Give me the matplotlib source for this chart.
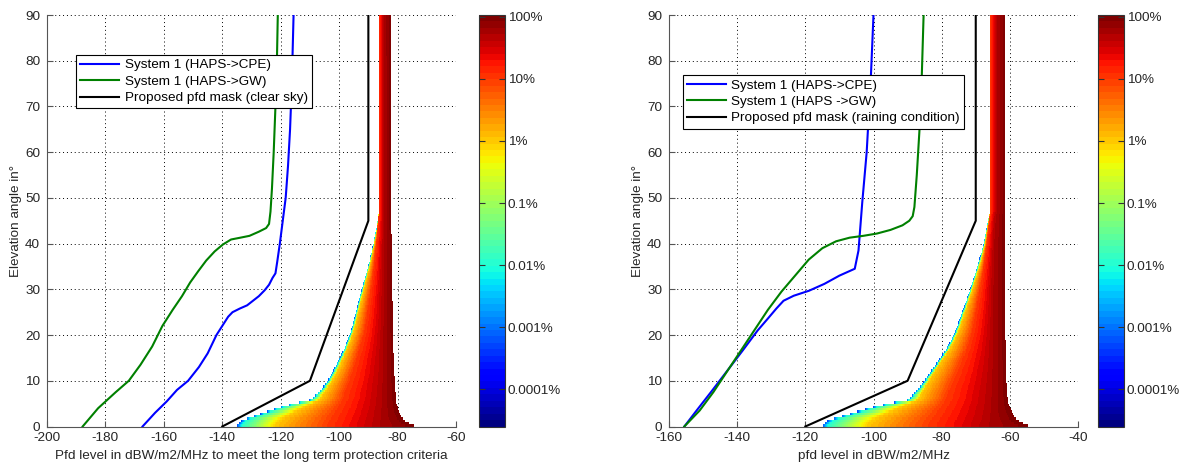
import numpy as np
import matplotlib as mpl
import matplotlib.pyplot as plt

plt.rcParams['font.family'] = ['Liberation Sans', 'DejaVu Sans']
plt.rcParams['font.size'] = 9.7
plt.rcParams['axes.unicode_minus'] = False

# colour anchors along each elevation row, log10 of the percentage
levels = [-3.3, -2.0, 0.0, 1.0, 1.7, 2.0]
pct_ticks = [-4, -3, -2, -1, 0, 1, 2]
pct_labels = ['0.0001%', '0.001%', '0.01%', '0.1%', '1%', '10%', '100%']

# ---- clear sky : pfd (dBW/m2/MHz) reached by each anchor level, per elevation
elev_cs = [0, 0.5, 1, 1.5, 2, 2.7, 3.5, 4.2, 4.8, 5.2, 5.6, 6.3, 8, 10, 13, 17, 21, 25, 30, 35, 40, 44, 46.5, 47, 90]
cs_l0 = [-135.2, -134.6, -134, -133, -130.5, -127.2, -123.5, -120.3, -117, -114.4, -110.6, -108.9, -106.3,
         -103.9, -101.4, -98.3, -95.9, -94.3, -92.3, -90.1, -88.3, -87.1, -86.6, -86.5, -86.5]
cs_l1 = [-133.6, -133.0, -132.4, -131.5, -129.1, -125.9, -122.4, -119.3, -116.1, -113.6, -110.0, -108.4, -105.8,
         -103.45, -101.0, -97.95, -95.6, -94.05, -92.1, -89.95, -88.2, -87.02, -86.55, -86.49, -86.49]
cs_l2 = [-122, -121.5, -121, -120, -119, -116.8, -114.5, -112.5, -110.5, -109, -107.5, -106.3, -104.5,
         -102.5, -100, -97.3, -95, -93.5, -91.6, -89.6, -87.9, -86.9, -86.5, -86.48, -86.48]
cs_l3 = [-104, -103.8, -103.5, -103, -102.5, -101.8, -101, -100.3, -99.8, -99.4, -99, -98.5, -97.8,
         -96.5, -95, -93, -91.3, -90.3, -89.2, -88.1, -87.3, -86.8, -86.45, -86.47, -86.47]
cs_l4 = [-87, -86.8, -86.6, -86.4, -86.2, -86.1, -86, -85.9, -85.85, -85.8, -85.75, -85.7, -85.55,
         -85.4, -85.3, -85.2, -85.1, -85, -85, -85, -84.9, -84.8, -84.7, -84.7, -84.7]
cs_l5 = [-73.5, -75.5, -76.8, -77.8, -78.6, -79.2, -79.7, -80, -80.2, -80.35, -80.5, -80.6, -80.8,
         -81, -81.2, -81.4, -81.6, -81.7, -81.8, -81.9, -82, -82.1, -82.2, -82.3, -82.4]

# ---- raining condition
elev_rn = [0, 0.5, 1, 1.5, 2, 2.7, 3.5, 4.2, 4.8, 5.2, 5.6, 6.3, 8, 10, 13, 17, 21, 25, 30, 35, 40, 44, 46.5, 47, 90]
rn_l0 = [-115.2, -114.6, -114, -113, -110.5, -107.2, -103.5, -100.3, -97, -94.4, -90.6, -89.2, -87.2,
         -85.1, -82.3, -78.6, -75.9, -74, -71.7, -69.5, -67.7, -66.7, -66, -65.7, -65.7]
rn_l1 = [-113.6, -113.0, -112.4, -111.5, -109.1, -105.9, -102.4, -99.3, -96.1, -93.6, -90.0, -88.7, -86.7,
         -84.65, -81.9, -78.25, -75.6, -73.75, -71.5, -69.35, -67.6, -66.62, -65.95, -65.69, -65.69]
rn_l2 = [-102, -101.5, -101, -100, -99, -96.8, -94.5, -92.5, -90.5, -89, -87.5, -86.6, -85.4,
         -83.7, -81.3, -77.6, -75, -73.2, -71, -68.9, -67.3, -66.5, -65.9, -65.68, -65.68]
rn_l3 = [-84, -83.8, -83.5, -83, -82.5, -81.8, -81, -80.3, -79.8, -79.4, -79, -78.6, -77.8,
         -76.6, -74.8, -72.6, -71, -70, -68.8, -67.7, -66.8, -66.2, -65.8, -65.67, -65.67]
rn_l4 = [-67, -66.8, -66.6, -66.4, -66.2, -66.1, -66, -65.9, -65.85, -65.8, -65.75, -65.7, -65.55,
         -65.4, -65.3, -65.2, -65.1, -65, -65, -64.9, -64.7, -64.5, -64.2, -63.9, -63.9]
rn_l5 = [-54, -55.5, -56.8, -57.8, -58.6, -59.2, -59.7, -60, -60.2, -60.35, -60.5, -60.6, -60.8,
         -61, -61.1, -61.2, -61.3, -61.4, -61.4, -61.5, -61.5, -61.5, -61.5, -61.5, -61.5]

# ---- system curves, clear sky
cpe_cs_x = [-167.3, -163, -159, -155.5, -151.7, -148, -145, -142, -140, -138, -136.5, -134, -131.5,
            -129.5, -127.5, -125.5, -124, -122.8, -121.8, -121.2, -120.3, -119.3, -118.3, -117.5,
            -116.8, -116.2, -115.8, -115.6]
cpe_cs_y = [0, 3, 5.5, 8, 10, 13, 16, 20, 22, 24, 25, 25.8, 26.5,
            27.5, 28.5, 29.8, 31, 32.5, 33.5, 36, 40, 45, 50, 57,
            65, 75, 85, 90]
gw_cs_x = [-187.8, -182.5, -176.5, -172, -168, -164, -160.5, -157, -153.8, -151, -148.2, -145.5, -142.6,
           -139.8, -137, -133.8, -130.7, -127.5, -125, -124, -123.5, -123, -122.4, -121.8, -121.3, -121]
gw_cs_y = [0, 4, 7.5, 10, 13.5, 17.5, 22, 25.5, 28.5, 31.5, 34, 36.3, 38.3,
           39.8, 40.9, 41.3, 41.7, 42.6, 43.4, 44.3, 47, 52, 60, 70, 80, 90]
mask_cs_x = [-140, -110, -90, -90]
mask_cs_y = [0, 10, 45, 90]

# ---- system curves, raining condition
cpe_rn_x = [-155.5, -151.9, -147.4, -142.9, -138.4, -134, -131, -128.5, -126.4, -123.4, -118.9, -114.4,
            -110, -105.5, -104.4, -103.3, -102, -100.8, -100]
cpe_rn_y = [0, 3.5, 7.8, 12.2, 16.6, 21, 23.6, 25.8, 27.5, 28.6, 29.7, 31.2,
            33, 34.5, 38.5, 49, 60, 76, 90]
gw_rn_x = [-155.5, -151, -147, -143, -139, -135, -131, -127, -123, -119, -115, -111, -107, -103,
           -99, -95, -91.5, -89.5, -88.5, -88, -87.3, -86.5, -85.9, -85.5, -85.3]
gw_rn_y = [0, 3.5, 7.5, 12, 16.5, 21, 25.5, 29.5, 33, 36.5, 39, 40.5, 41.3, 41.7,
           42.2, 43, 44, 45, 46, 48, 55, 65, 75, 85, 90]
mask_rn_x = [-120, -90, -70, -70]
mask_rn_y = [0, 10, 45, 90]

jet = plt.get_cmap('jet', 64)
vmin, vmax = -4.6, 2.03


def pfd_field(x0, x1, elev, anchors):
    xc = np.arange(x0 + 0.05, x1, 0.1)
    ec = np.arange(0.25, 90, 0.5)
    A = np.array([np.interp(ec, elev, a) for a in anchors])
    Z = np.full((len(ec), len(xc)), np.nan)
    for i in range(len(ec)):
        row = np.interp(xc, A[:, i], levels)
        inside = (xc >= A[0, i]) & (xc <= A[-1, i])
        Z[i] = np.where(inside, row, np.nan)
    return xc, ec, np.ma.masked_invalid(Z)


def panel(ax, cax, field, curves, labels, xlim, xlabel, leg_anchor):
    xc, ec, Z = field
    mesh = ax.pcolormesh(xc, ec, Z, cmap=jet, vmin=vmin, vmax=vmax, shading='nearest', zorder=1)
    cols = ['#0000ff', '#008000', 'k']
    for (cx, cy), lab, c in zip(curves, labels, cols):
        ax.plot(cx, cy, color=c, lw=1.5, label=lab, zorder=3)
    ax.set_xlim(*xlim)
    ax.set_ylim(0, 90)
    ax.set_xticks(np.arange(xlim[0], xlim[1] + 1, 20))
    ax.set_yticks(np.arange(0, 91, 10))
    ax.grid(True, linestyle=(0, (1, 3)), color='k', linewidth=0.7, zorder=0)
    ax.set_axisbelow(True)
    for s in ['top', 'right']:
        ax.spines[s].set_visible(False)
    for s in ['left', 'bottom']:
        ax.spines[s].set_color('#555555')
    ax.tick_params(direction='in', length=4, colors='#555555', labelcolor='#262626')
    ax.tick_params(axis='x', pad=4)
    ax.tick_params(axis='y', pad=5)
    ax.set_xlabel(xlabel, color='#262626', labelpad=4)
    ax.set_ylabel('Elevation angle in°', color='#262626', labelpad=2)
    leg = ax.legend(loc='upper left', bbox_to_anchor=leg_anchor, fancybox=False, framealpha=1,
                    edgecolor='k', handlelength=2.9, borderpad=0.3, labelspacing=0.3,
                    handletextpad=0.4, borderaxespad=0)
    leg.get_frame().set_linewidth(0.8)

    cb = plt.colorbar(mesh, cax=cax, ticks=pct_ticks)
    cb.ax.set_yticklabels(pct_labels)
    cb.outline.set_edgecolor('#333333')
    cb.ax.tick_params(direction='in', left=True, right=True, length=4, colors='#333333',
                      labelcolor='#262626', pad=2)


W, H = 1188, 468
bot, top = 426.5, 15
fig = plt.figure(figsize=(W / 100, H / 100), dpi=100)
ax1 = fig.add_axes([47 / W, (H - bot) / H, 409 / W, (bot - top) / H])
cax1 = fig.add_axes([479 / W, (H - bot) / H, 26 / W, (bot - top) / H])
ax2 = fig.add_axes([669 / W, (H - bot) / H, 409 / W, (bot - top) / H])
cax2 = fig.add_axes([1098 / W, (H - bot) / H, 26 / W, (bot - top) / H])

field_cs = pfd_field(-140, -70, elev_cs, [cs_l0, cs_l1, cs_l2, cs_l3, cs_l4, cs_l5])
field_rn = pfd_field(-120, -50, elev_rn, [rn_l0, rn_l1, rn_l2, rn_l3, rn_l4, rn_l5])

panel(ax1, cax1, field_cs,
      [(cpe_cs_x, cpe_cs_y), (gw_cs_x, gw_cs_y), (mask_cs_x, mask_cs_y)],
      ['System 1 (HAPS->CPE)', 'System 1 (HAPS->GW)', 'Proposed pfd mask (clear sky)'],
      (-200, -60), 'Pfd level in dBW/m2/MHz to meet the long term protection criteria', (0.071, 0.903))
panel(ax2, cax2, field_rn,
      [(cpe_rn_x, cpe_rn_y), (gw_rn_x, gw_rn_y), (mask_rn_x, mask_rn_y)],
      ['System 1 (HAPS->CPE)', 'System 1 (HAPS ->GW)', 'Proposed pfd mask (raining condition)'],
      (-160, -40), 'pfd level in dBW/m2/MHz', (0.034, 0.854))

fig.savefig('out.png', dpi=100)
